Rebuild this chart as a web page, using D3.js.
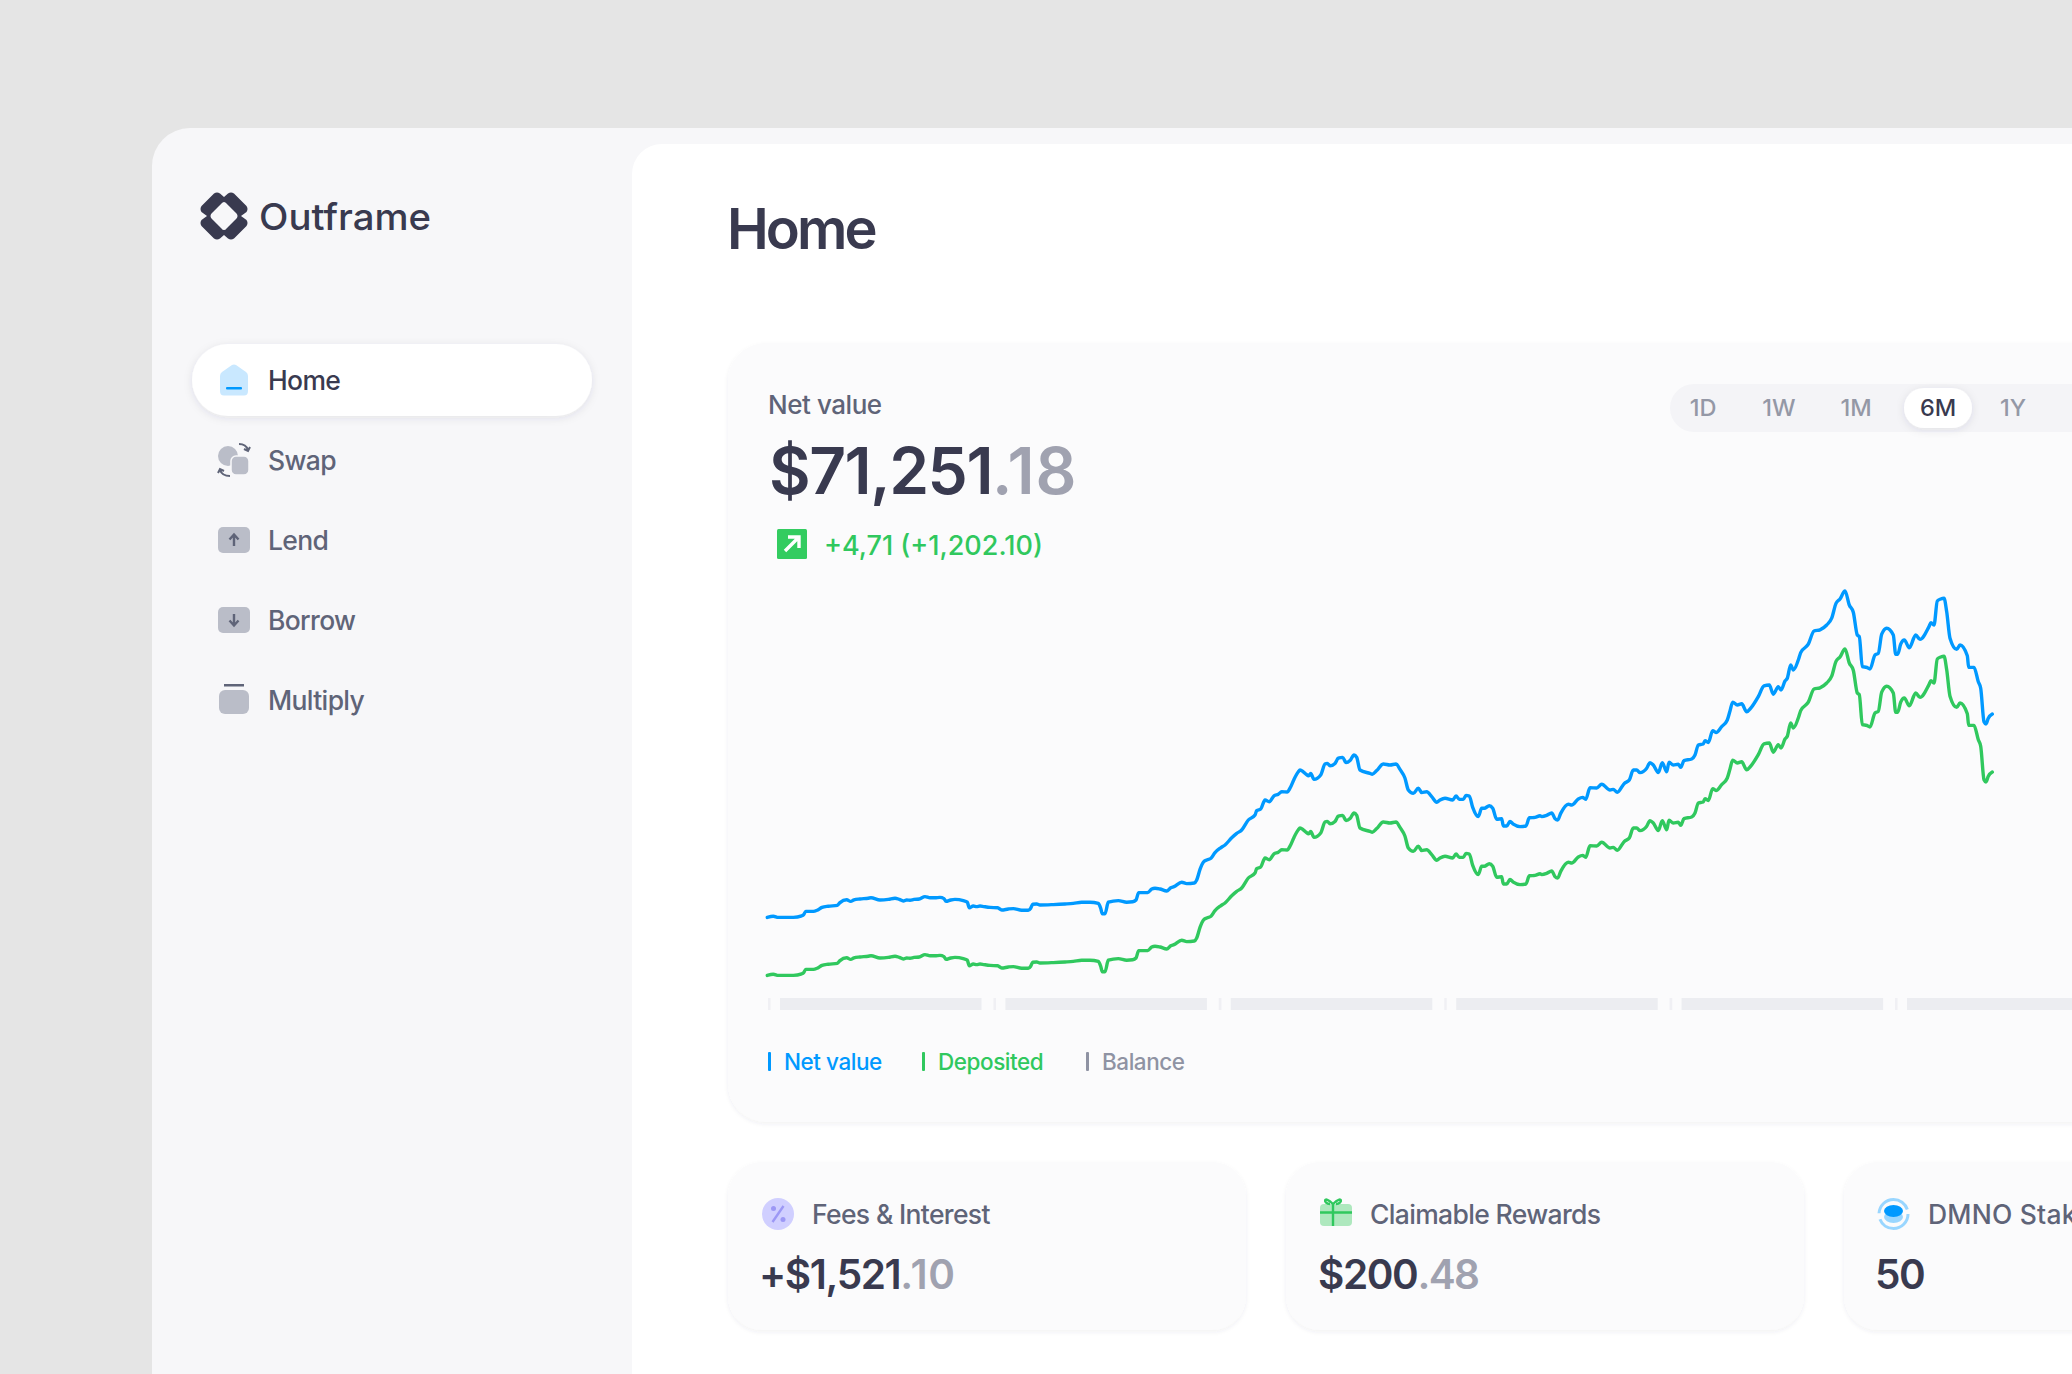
<!DOCTYPE html>
<html>
<head>
<meta charset="utf-8">
<title>Outframe</title>
<script src="https://cdn.jsdelivr.net/npm/d3@7"></script>
<style>
  html, body { margin: 0; padding: 0; background: #e5e5e5; overflow: hidden; }
  svg { display: block; font-family: Inter, "Noto Sans", sans-serif; }
</style>
</head>
<body>
<div id="app"></div>
<script>
const width = 2072;
const height = 1374;

// sample position along the 6M range
const samples = [
  0.3, 6.3, 11.3, 19.7, 26.3, 34.7, 36.7, 38.7, 46.3, 50.3, 55, 61.3, 70.3, 73, 79.7, 83.7, 87, 93, 101.3, 104,
  113, 121.3, 128, 132.3, 136.3, 139.7, 143, 147, 152.3, 158, 163, 168, 173, 177, 179, 183.7, 188, 196.3, 200.3, 202.3,
  206.3, 209.7, 213, 217, 223, 230.7, 234.7, 241.3, 246.3, 254.7, 261.3, 263.7, 265.7, 269.7, 273, 286.3, 298, 306.3, 314.7, 323,
  331.3, 333.7, 335.3, 338, 341.3, 351.3, 359.7, 365.7, 369, 371.7, 380.7, 384.7, 388, 393, 399.7, 403.7, 407, 414.7, 419.7, 427.3,
  429.7, 433, 436.3, 439.7, 444, 448, 453.7, 458, 464.7, 469.7, 474.7, 481.3, 488, 489.7, 493.7, 498, 502.3, 507, 511.3, 514.7,
  520.3, 523, 527, 531.3, 533, 536.3, 539, 541.7, 543.7, 547, 553.7, 558, 560.3, 563, 568, 571.3, 575.7, 579, 583, 587,
  589.7, 593, 603, 605.3, 609.7, 616.3, 623, 629, 633, 638, 641.3, 646.3, 651.3, 654.7, 659.7, 664.7, 669.7, 673, 678, 685.7,
  689, 692.3, 696.3, 699, 702.3, 705.7, 711.3, 714.7, 717.3, 722.3, 725.7, 729.7, 734.7, 736.3, 739.7, 743, 746.3, 753, 759, 762.3,
  768, 773, 774.7, 779.7, 784.7, 788, 790.7, 793.7, 801.3, 804.7, 811.3, 815.7, 818.7, 823, 829.7, 834.7, 843, 846.3, 850.3, 857.3,
  862.3, 866.3, 869.7, 873, 879.7, 883, 886.3, 891.3, 895.3, 899.7, 902, 906.3, 911.3, 913.7, 917, 924.7, 928, 931.3, 936.3, 938,
  941.3, 945.7, 949, 954.7, 960.3, 963, 965.7, 970.3, 974.7, 979.7, 983, 991.3, 997, 1002.3, 1006.3, 1011.3, 1014, 1018, 1020.3, 1023.7,
  1026.3, 1031.3, 1033.7, 1041.3, 1047, 1053, 1059.7, 1064.7, 1069, 1073, 1078, 1082.3, 1086.3, 1090.3, 1092.3, 1095.3, 1099.7, 1103, 1108, 1111.3,
  1114.7, 1119.7, 1126.3, 1128.7, 1130.7, 1133.7, 1137.3, 1142.3, 1148.7, 1153, 1162, 1164, 1167, 1170.3, 1173.7, 1177, 1179.7, 1183, 1189.7, 1193,
  1200.3, 1201.7, 1207, 1211.3, 1213.7, 1217, 1219, 1221.3, 1225.3
];

// thousands of dollars
const netValue = [
  20.4, 20.7, 20.4, 20.4, 20.4, 20.8, 21.1, 21.9, 21.9, 22.2, 22.9, 23.2, 23.4, 24.1, 24.8, 24.4, 24.8, 25, 25.2, 25.3,
  24.75, 24.9, 25.2, 24.9, 24.5, 24.75, 24.7, 24.9, 25, 25.6, 25.3, 25.3, 25.4, 25.1, 24.4, 24.75, 24.9, 24.6, 24.2, 22.8,
  23.25, 23.1, 23.25, 23.1, 22.9, 22.8, 22.25, 22.5, 22.6, 22.2, 22.2, 22.7, 23.7, 23.75, 23.5, 23.6, 23.75, 23.9, 24.2, 24.2,
  23.9, 22.7, 21.3, 21.3, 24.2, 24.6, 24.2, 24.3, 24.75, 26.6, 26.6, 27.5, 27.7, 27.5, 27, 27.8, 28.1, 29.2, 28.85, 29,
  29.75, 32.4, 34.2, 34.75, 35.2, 36.6, 37.8, 38.5, 40.3, 41.4, 42.25, 44.75, 46, 47.1, 47.5, 49.75, 49.3, 50.8, 51.2, 51.8,
  51.75, 52.7, 54.9, 56.8, 57.25, 56.8, 56.2, 55.8, 56.4, 54.9, 56, 58.75, 58.9, 58.3, 58.9, 60.2, 60.4, 59.1, 59.6, 61,
  60.4, 57.25, 56.4, 56.2, 57.1, 58.75, 58.5, 58.75, 57.4, 55.2, 52.25, 51.4, 52.7, 51.6, 51.8, 50.6, 49.2, 49.75, 50.2, 49.75,
  50.75, 49.9, 49.9, 50.9, 50.75, 47.9, 45.6, 47.7, 47.7, 48.3, 47.7, 44.9, 45.1, 43.25, 43.25, 44.4, 43.7, 43.1, 43.25, 45.3,
  45.4, 45.8, 45.6, 45.9, 46.5, 45.1, 44.75, 46.4, 48.7, 48.5, 50, 50.4, 49.9, 52.8, 52.75, 53.7, 52.25, 52.4, 51.7, 53.9,
  54.75, 57.25, 57.25, 56.6, 57.7, 59.1, 58.5, 56.6, 59.1, 56.8, 59.2, 58.5, 58.7, 57.9, 59.6, 60, 61, 63.5, 63.75, 64.6,
  64.1, 67.1, 66.6, 68.1, 69.75, 72, 74.2, 73.5, 73.8, 71.8, 72.5, 75.6, 78.3, 78.5, 76.2, 78.1, 77.25, 79.5, 80.2, 83.5,
  82.25, 84.75, 86.6, 88.7, 92, 92.3, 93.5, 95.2, 98.9, 100, 102, 98.5, 96.7, 91, 90.6, 83.1, 82.9, 82.5, 86, 86.4,
  91.2, 92.7, 91, 86.2, 86.2, 88.7, 89.75, 87.8, 91, 89.9, 93.1, 94.1, 93.5, 99.5, 100, 100.2, 96.8, 90.2, 87.4, 88.5,
  85.8, 82.9, 82.9, 79.3, 77.7, 69.3, 68.75, 70.2, 71.25
];

const deposited = [
  5.9, 6.2, 5.9, 5.9, 5.9, 6.3, 6.6, 7.4, 7.4, 7.7, 8.4, 8.7, 8.9, 9.6, 10.3, 9.9, 10.3, 10.5, 10.7, 10.8,
  10.25, 10.4, 10.7, 10.4, 10, 10.25, 10.2, 10.4, 10.5, 11.1, 10.8, 10.8, 10.9, 10.6, 9.9, 10.25, 10.4, 10.1, 9.7, 8.3,
  8.75, 8.6, 8.75, 8.6, 8.4, 8.3, 7.75, 8, 8.1, 7.7, 7.7, 8.2, 9.2, 9.25, 9, 9.1, 9.25, 9.4, 9.7, 9.7,
  9.4, 8.2, 6.8, 6.8, 9.7, 10.1, 9.7, 9.8, 10.25, 12.1, 12.1, 13, 13.2, 13, 12.5, 13.3, 13.6, 14.7, 14.35, 14.5,
  15.25, 17.9, 19.7, 20.25, 20.7, 22.1, 23.3, 24, 25.8, 26.9, 27.75, 30.25, 31.5, 32.6, 33, 35.25, 34.8, 36.3, 36.7, 37.3,
  37.25, 38.2, 40.4, 42.3, 42.75, 42.3, 41.7, 41.3, 41.9, 40.4, 41.5, 44.25, 44.4, 43.8, 44.4, 45.7, 45.9, 44.6, 45.1, 46.5,
  45.9, 42.75, 41.9, 41.7, 42.6, 44.25, 44, 44.25, 42.9, 40.7, 37.75, 36.9, 38.2, 37.1, 37.3, 36.1, 34.7, 35.25, 35.7, 35.25,
  36.25, 35.4, 35.4, 36.4, 36.25, 33.4, 31.1, 33.2, 33.2, 33.8, 33.2, 30.4, 30.6, 28.75, 28.75, 29.9, 29.2, 28.6, 28.75, 30.8,
  30.9, 31.3, 31.1, 31.4, 32, 30.6, 30.25, 31.9, 34.2, 34, 35.5, 35.9, 35.4, 38.3, 38.25, 39.2, 37.75, 37.9, 37.2, 39.4,
  40.25, 42.75, 42.75, 42.1, 43.2, 44.6, 44, 42.1, 44.6, 42.3, 44.7, 44, 44.2, 43.4, 45.1, 45.5, 46.5, 49, 49.25, 50.1,
  49.6, 52.6, 52.1, 53.6, 55.25, 57.5, 59.7, 59, 59.3, 57.3, 58, 61.1, 63.8, 64, 61.7, 63.6, 62.75, 65, 65.7, 69,
  67.75, 70.25, 72.1, 74.2, 77.5, 77.8, 79, 80.7, 84.4, 85.5, 87.5, 84, 82.2, 76.5, 76.1, 68.6, 68.4, 68, 71.5, 71.9,
  76.7, 78.2, 76.5, 71.7, 71.7, 74.2, 75.25, 73.3, 76.5, 75.4, 78.6, 79.6, 79, 85, 85.5, 85.7, 82.3, 75.7, 72.9, 74,
  71.3, 68.4, 68.4, 64.8, 63.2, 54.8, 54.25, 55.7, 56.75
];

const navItems = ["Home", "Swap", "Lend", "Borrow", "Multiply"];
const rangeLabels = ["1D", "1W", "1M", "6M", "1Y"];
const rangeCenters = [1703, 1779, 1856, 1938, 2013];
const activeRange = "6M";
const axisSlots = [0, 1, 2, 3, 4, 5];
const legendLabels = ["Net value", "Deposited", "Balance"];
const legendColors = ["#0099ff", "#30c85e", "#8f93a3"];
const legendX = [768, 922, 1086];
const cardTitles = ["Fees & Interest", "Claimable Rewards", "DMNO Staked"];
const cardTitleSpacing = [-0.65, -0.65, 0.2];
const cardWhole = ["+$1,521", "$200", "50"];
const cardCents = [".10", ".48", ""];
const cardCentsSpacing = [0.8, -1.6, 0];
const cardX = [728, 1286, 1844];

const ink = "#393a4f";
const slate = "#5f6478";
const faint = "#a0a2b0";
const iconGrey = "#babdc8";
const blue = "#0099ff";
const green = "#30c85e";

const svg = d3.select("#app").append("svg")
  .attr("width", width)
  .attr("height", height)
  .attr("viewBox", [0, 0, width, height]);

const defs = svg.append("defs");
function softShadow(id, dy, blur, opacity) {
  defs.append("filter").attr("id", id)
    .attr("x", "-10%").attr("y", "-20%").attr("width", "120%").attr("height", "150%")
    .append("feDropShadow")
    .attr("dx", 0).attr("dy", dy).attr("stdDeviation", blur)
    .attr("flood-color", "#3a3d55").attr("flood-opacity", opacity);
}
softShadow("card", 2, 2, 0.07);
softShadow("pill", 2, 4, 0.1);

function label(parent, x, y, str, size, weight, fill, spacing) {
  return parent.append("text")
    .attr("x", x).attr("y", y)
    .attr("font-size", size).attr("font-weight", weight)
    .attr("letter-spacing", spacing || 0)
    .attr("fill", fill)
    .text(str);
}

// shell
svg.append("rect").attr("width", width).attr("height", height).attr("fill", "#e5e5e5");
svg.append("rect").attr("x", 152).attr("y", 128).attr("width", 2100).attr("height", 1500).attr("rx", 38).attr("fill", "#f7f7f9");
svg.append("rect").attr("x", 632).attr("y", 144).attr("width", 1600).attr("height", 1400).attr("rx", 30).attr("fill", "#ffffff");

// logo
const logo = svg.append("g").attr("transform", "translate(200,192)");
logo.append("path")
  .attr("fill", ink).attr("fill-rule", "evenodd")
  .attr("d", "M24 5L20 1.5Q17 -0.5 14 1.5L1.5 14Q-0.5 17 1.5 20L7 24L1.5 28Q-0.5 31 1.5 34L14 46.5Q17 48.5 20 46.5L24 43L28 46.5Q31 48.5 34 46.5L46.5 34Q48.5 31 46.5 28L41 24L46.5 20Q48.5 17 46.5 14L34 1.5Q31 -0.5 28 1.5Z"
    + "M24 10Q25.5 10 26.5 11.5L36.5 21.5Q38.5 24 36.5 26.5L26.5 36.5Q25.5 38 24 38Q22.5 38 21.5 36.5L11.5 26.5Q9.5 24 11.5 21.5L21.5 11.5Q22.5 10 24 10Z");
label(svg, 259, 230, "Outframe", 37, 500, ink)
  .attr("textLength", 172).attr("lengthAdjust", "spacingAndGlyphs");

// sidebar
svg.append("rect").attr("x", 192).attr("y", 344).attr("width", 400).attr("height", 72).attr("rx", 36)
  .attr("fill", "#fff").attr("filter", "url(#pill)");
const navY = d3.scalePoint().domain(navItems).range([390, 710]);
svg.append("g").selectAll("text").data(navItems).join("text")
  .attr("x", 268).attr("y", d => navY(d))
  .attr("font-size", 26.5).attr("font-weight", 500).attr("letter-spacing", -0.65)
  .attr("fill", d => d === "Home" ? ink : slate)
  .text(d => d);

// nav icons
svg.append("path").attr("fill", "#c9e8ff")
  .attr("d", "M232 365Q234 364 236 365L246 372Q248 373.5 248 376V391Q248 395.5 244 395.5H224Q220 395.5 220 391V376Q220 373.5 222 372Z");
svg.append("rect").attr("x", 226).attr("y", 387).attr("width", 16).attr("height", 2.4).attr("rx", 1).attr("fill", blue);

svg.append("circle").attr("cx", 228).attr("cy", 456).attr("r", 10).attr("fill", iconGrey);
svg.append("rect").attr("x", 231).attr("y", 456).attr("width", 18).attr("height", 19).attr("rx", 5)
  .attr("fill", iconGrey).attr("stroke", "#f7f7f9").attr("stroke-width", 1.5);
svg.append("path").attr("fill", "none").attr("stroke", slate).attr("stroke-width", 2)
  .attr("d", "M239 444Q246 444 248 450M244 449L248 451L250 447M230 476Q222 476 220 470M224 471L220 469L218 473");

function arrowTile(yTop, up) {
  const mid = yTop + 13;
  svg.append("rect").attr("x", 218).attr("y", yTop).attr("width", 32).attr("height", 26).attr("rx", 5).attr("fill", iconGrey);
  const d = up
    ? `M234 ${mid + 6}V${mid - 5}M229.5 ${mid - 0.5}L234 ${mid - 5.5}L238.5 ${mid - 0.5}`
    : `M234 ${mid - 6}V${mid + 5}M229.5 ${mid + 0.5}L234 ${mid + 5.5}L238.5 ${mid + 0.5}`;
  svg.append("path").attr("d", d).attr("fill", "none").attr("stroke", slate).attr("stroke-width", 2.4);
}
arrowTile(527, true);
arrowTile(607, false);

svg.append("rect").attr("x", 219).attr("y", 690).attr("width", 30).attr("height", 24).attr("rx", 6).attr("fill", iconGrey);
svg.append("rect").attr("x", 224).attr("y", 684).attr("width", 20).attr("height", 2.5).attr("fill", slate);

// heading
label(svg, 727, 249, "Home", 56, 600, ink, -2.9);

// main chart card
svg.append("rect").attr("x", 728).attr("y", 343).attr("width", 1500).attr("height", 779).attr("rx", 38)
  .attr("fill", "#fbfbfc").attr("filter", "url(#card)");

label(svg, 768, 414, "Net value", 26, 500, slate, -0.45);
const bigValue = label(svg, 769, 494, "$71,251", 64, 600, ink, -1.45);
bigValue.append("tspan").attr("fill", faint).attr("letter-spacing", 0.8).text(".18");

svg.append("rect").attr("x", 777).attr("y", 529).attr("width", 30).attr("height", 30).attr("rx", 1.5).attr("fill", "#33cc60");
svg.append("path").attr("fill", "none").attr("stroke", "#fff").attr("stroke-width", 3.4)
  .attr("d", "M785 551L798 538M788 537H799V548");
label(svg, 824, 555, "+4,71 (+1,202.10)", 27, 500, green);

// range switch
svg.append("rect").attr("x", 1670).attr("y", 384).attr("width", 560).attr("height", 48).attr("rx", 24).attr("fill", "#f4f4f7");
svg.append("rect").attr("x", 1904).attr("y", 388).attr("width", 68).attr("height", 40).attr("rx", 20)
  .attr("fill", "#fff").attr("filter", "url(#pill)");
svg.append("g").selectAll("text").data(rangeLabels).join("text")
  .attr("x", (d, i) => rangeCenters[i]).attr("y", 416)
  .attr("text-anchor", "middle").attr("font-size", 23.5).attr("font-weight", 500)
  .attr("fill", d => d === activeRange ? ink : "#9498a6")
  .text(d => d);

// lines
const x = d3.scaleLinear().domain([0, 1225.3]).range([767, 1992.3]);
const y = d3.scaleLinear().domain([0, 100]).range([999, 599]);
const line = d3.line()
  .x((d, i) => x(samples[i]))
  .y(d => y(d))
  .curve(d3.curveMonotoneX);

[[deposited, green], [netValue, blue]].forEach(([series, color]) => {
  svg.append("path")
    .datum(series)
    .attr("d", line)
    .attr("fill", "none")
    .attr("stroke", color)
    .attr("stroke-width", 3.4)
    .attr("stroke-linejoin", "round")
    .attr("stroke-linecap", "round");
});

// x axis placeholders
const slotX = d3.scaleLinear().domain([0, 1]).range([768, 993.4]);
const axisG = svg.append("g");
axisG.selectAll(".tick-mark").data(axisSlots).join("rect")
  .attr("class", "tick-mark")
  .attr("x", d => slotX(d)).attr("y", 998).attr("width", 2.6).attr("height", 12)
  .attr("fill", "#f0f0f4");
axisG.selectAll(".tick-label").data(axisSlots).join("rect")
  .attr("class", "tick-label")
  .attr("x", d => slotX(d) + 12).attr("y", 998).attr("width", 201.5).attr("height", 12)
  .attr("fill", "#ecedf1");

// legend
legendLabels.forEach((name, i) => {
  svg.append("rect").attr("x", legendX[i]).attr("y", 1052).attr("width", 3).attr("height", 19).attr("rx", 1).attr("fill", legendColors[i]);
  label(svg, legendX[i] + 16, 1070, name, 22.5, 500, legendColors[i], -0.45);
});

// stat cards
const cards = svg.append("g").selectAll("g").data(cardTitles).join("g");
cards.append("rect")
  .attr("x", (d, i) => cardX[i]).attr("y", 1162).attr("rx", 34)
  .attr("width", (d, i) => i < 2 ? 518 : 600).attr("height", 168)
  .attr("fill", "#fbfbfc").attr("filter", "url(#card)");
cards.append("text")
  .attr("x", (d, i) => cardX[i] + 84).attr("y", 1224)
  .attr("font-size", 26.5).attr("font-weight", 500).attr("fill", slate)
  .attr("letter-spacing", (d, i) => cardTitleSpacing[i])
  .text(d => d);
const amounts = cards.append("text")
  .attr("x", (d, i) => cardX[i] + (i === 1 ? 32 : 31)).attr("y", 1289)
  .attr("font-size", 40.5).attr("font-weight", 600).attr("letter-spacing", -1.4).attr("fill", ink)
  .text((d, i) => cardWhole[i]);
amounts.append("tspan").attr("fill", faint)
  .attr("letter-spacing", (d, i) => cardCentsSpacing[i])
  .text((d, i) => cardCents[i]);

// card icons
svg.append("circle").attr("cx", 778).attr("cy", 1214).attr("r", 16).attr("fill", "#d0cfff");
svg.append("path").attr("fill", "none").attr("stroke", "#9c98f5").attr("stroke-width", 2.4).attr("d", "M772.5 1222L783.5 1206");
svg.append("circle").attr("cx", 773.5).attr("cy", 1208.5).attr("r", 2.5).attr("fill", "#9c98f5");
svg.append("circle").attr("cx", 783).attr("cy", 1219.5).attr("r", 2.5).attr("fill", "#9c98f5");

svg.append("rect").attr("x", 1320).attr("y", 1204).attr("width", 32).attr("height", 22).attr("rx", 4).attr("fill", "#aee8be");
svg.append("path").attr("fill", "none").attr("stroke", green).attr("stroke-width", 2.4)
  .attr("d", "M1320 1212.5H1352M1333 1204V1226M1333 1204C1323 1194 1323 1204 1330 1204M1333 1204C1343 1194 1343 1204 1336 1204");

svg.append("circle").attr("cx", 1893.5).attr("cy", 1214).attr("r", 14.5).attr("fill", "none").attr("stroke", "#99d6ff").attr("stroke-width", 3)
  .attr("stroke-dasharray", "40 6");
svg.append("ellipse").attr("cx", 1893.5).attr("cy", 1217).attr("rx", 9.5).attr("ry", 6).attr("fill", "#99d6ff");
svg.append("ellipse").attr("cx", 1893.5).attr("cy", 1211).attr("rx", 9.5).attr("ry", 6).attr("fill", blue);
</script>
</body>
</html>
